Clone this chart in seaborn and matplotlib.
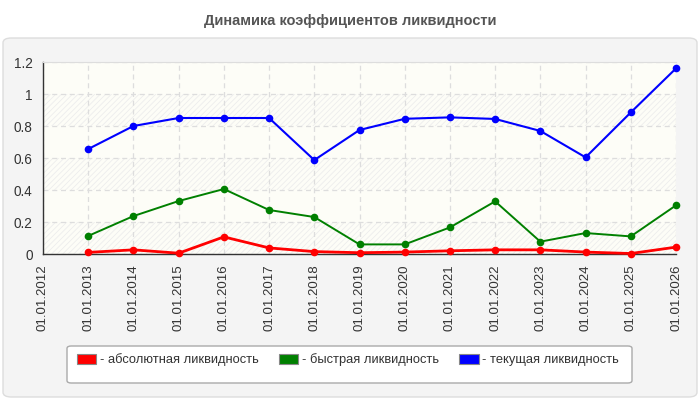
import numpy as np
import pandas as pd
import seaborn as sns
import matplotlib.pyplot as plt
from matplotlib.patches import FancyBboxPatch, Patch
from matplotlib.ticker import FuncFormatter

# tick labels on the x axis (one per year)
tick_labels = ['01.01.%d' % y for y in range(2012, 2027)]
dates = tick_labels[1:]

# values
absolute = [0.010, 0.026, 0.005, 0.107, 0.038, 0.015, 0.008, 0.012, 0.020, 0.026, 0.026, 0.012, 0.003, 0.043]
quick = [0.113, 0.237, 0.331, 0.406, 0.275, 0.231, 0.060, 0.060, 0.166, 0.329, 0.077, 0.131, 0.110, 0.304]
current = [0.656, 0.800, 0.850, 0.850, 0.850, 0.587, 0.775, 0.845, 0.854, 0.844, 0.769, 0.604, 0.885, 1.160]

series_names = ['абсолютная ликвидность', 'быстрая ликвидность', 'текущая ликвидность']
colors = ['#ff0000', '#008000', '#0000ff']

rows = []
for name, vals in zip(series_names, [absolute, quick, current]):
    for d, v in zip(dates, vals):
        rows.append({'pos': tick_labels.index(d), 'value': v, 'series': name})
df = pd.DataFrame(rows)

sns.set_style('white')
plt.rcParams['font.family'] = ['Liberation Sans', 'DejaVu Sans']
plt.rcParams['hatch.linewidth'] = 0.6

fig = plt.figure(figsize=(7, 4), dpi=100)
W, H = 700, 400

# grey panel behind the chart
panel = FancyBboxPatch((3 / W, 3 / H), 694 / W, (397 - 38) / H,
                       boxstyle='round,pad=0,rounding_size=0.012',
                       transform=fig.transFigure, facecolor='#f4f4f4',
                       edgecolor='#dddddd', linewidth=1, zorder=-10)
fig.patches.append(panel)

fig.text(0.5, 1 - 21 / H, 'Динамика коэффициентов ликвидности', ha='center', va='center',
         fontsize=10.5, fontweight='bold', color='#555555')

ax = fig.add_axes([43 / W, 1 - 254 / H, (676 - 43) / W, (254 - 62) / H])
ax.set_zorder(2)
ax.set_facecolor('#fdfdf7')

# alternating hatched bands
for lo in np.arange(0, 1.2, 0.4):
    ax.axhspan(lo, lo + 0.2, facecolor='#fdfdf7', edgecolor='#ededed',
               hatch='//////', linewidth=0, zorder=0)

ax.grid(True, color='#dddddd', linestyle=(0, (4, 3)), linewidth=0.9)
ax.set_axisbelow(True)

sns.lineplot(data=df, x='pos', y='value', hue='series', palette=colors,
             hue_order=series_names, size='series',
             sizes={series_names[0]: 2.0, series_names[1]: 1.4, series_names[2]: 1.5},
             marker='o', markersize=5.5, markeredgewidth=0, legend=False, ax=ax,
             clip_on=False, zorder=3)

ax.set_xlim(0, 14)
ax.set_ylim(0, 1.2)
ax.set_xticks(range(len(tick_labels)))
ax.set_xticklabels(tick_labels, rotation=90, fontsize=9.5, color='#333333')
ax.set_yticks(np.arange(0, 1.21, 0.2))
ax.yaxis.set_major_formatter(FuncFormatter(lambda v, p: '%g' % round(v, 1)))
ax.tick_params(axis='y', labelsize=9.8, labelcolor='#333333')
ax.tick_params(axis='both', direction='out', length=4, width=1, color='#333333')
ax.set_xlabel('')
ax.set_ylabel('')
for s in ['left', 'bottom']:
    ax.spines[s].set_color('#333333')
    ax.spines[s].set_linewidth(1)
ax.spines['top'].set_color('#dddddd')
ax.spines['right'].set_visible(False)

# legend box
lbox = FancyBboxPatch((67 / W, 1 - 383 / H), (632 - 67) / W, (383 - 346) / H,
                      boxstyle='round,pad=0,rounding_size=0.006',
                      transform=fig.transFigure, facecolor='white',
                      edgecolor='#aaaaaa', linewidth=1, zorder=1)
fig.patches.append(lbox)

handles = [Patch(facecolor=c, edgecolor='#888888', linewidth=0.8) for c in colors]
labels = ['- ' + n for n in series_names]
leg = fig.legend(handles, labels, loc='center left', bbox_to_anchor=(77 / W, 1 - 360 / H),
                 ncol=3, frameon=False, fontsize=9.3, handlelength=1.5, handleheight=0.75,
                 handletextpad=0.25, columnspacing=1.6, borderaxespad=0, borderpad=0,
                 labelcolor='#333333')
leg.set_zorder(5)

fig.savefig('out.png', dpi=100)
